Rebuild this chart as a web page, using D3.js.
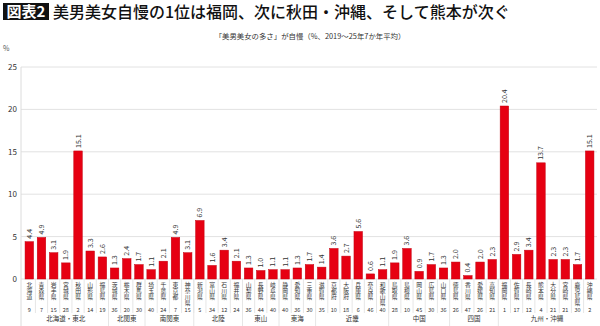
<!DOCTYPE html>
<html>
<head>
<meta charset="utf-8">
<script src="https://cdn.jsdelivr.net/npm/d3@7"></script>
<style>
  body { margin: 0; background: #fff; }
  svg { display: block; font-family: "Noto Sans CJK JP", "Noto Sans", sans-serif; }
  .vlabel { writing-mode: vertical-rl; }
</style>
</head>
<body>
<svg id="chart" width="600" height="326"></svg>
<script>
// data
var prefectures = ["北海道","青森県","岩手県","宮城県","秋田県","山形県","福島県",
  "茨城県","栃木県","群馬県","埼玉県","千葉県","東京都","神奈川県",
  "新潟県","富山県","石川県","福井県","山梨県","長野県","岐阜県",
  "静岡県","愛知県","三重県","滋賀県","京都府","大阪府","兵庫県","奈良県","和歌山県",
  "鳥取県","島根県","岡山県","広島県","山口県","徳島県","香川県","愛媛県","高知県",
  "福岡県","佐賀県","長崎県","熊本県","大分県","宮崎県","鹿児島県","沖縄県"];
var values = [4.4,4.9,3.1,1.9,15.1,3.3,2.6,
  1.3,2.4,1.7,1.1,2.1,4.9,3.1,
  6.9,1.6,3.4,2.1,1.3,1.0,1.1,
  1.1,1.3,1.7,1.4,3.6,2.7,5.6,0.6,1.1,
  1.9,3.6,0.9,1.7,1.3,2.0,0.4,2.0,2.3,
  20.4,2.9,3.4,13.7,2.3,2.3,1.7,15.1];
var ranks = [9,7,15,28,2,14,19,
  36,20,30,40,24,7,15,
  5,34,12,24,36,44,40,
  40,36,30,35,10,18,6,46,40,
  28,10,45,30,36,26,47,26,21,
  1,17,12,4,21,21,30,2];
var regionNames = ["北海道・東北","北関東","南関東","北陸","東山","東海","近畿","中国","四国","九州・沖縄"];
var regionSizes = [7,3,4,4,3,3,6,5,4,8];
var yTicks = [0,5,10,15,20,25];

var svg = d3.select("#chart");
var plotLeft = 22, plotRight = 597, plotTop = 67, zeroY = 279;

var x = d3.scaleBand()
    .domain(prefectures)
    .range([plotLeft, plotRight])
    .paddingInner(0.3)
    .paddingOuter(0.25);

var y = d3.scaleLinear()
    .domain([0, 25])
    .range([zeroY, plotTop]);

// title
svg.append("rect").attr("x", 3).attr("y", 3).attr("width", 46).attr("height", 17).attr("fill", "#111");
svg.append("text").attr("x", 26).attr("y", 17.3).attr("text-anchor", "middle")
    .attr("fill", "#fff").attr("font-size", 15).attr("font-weight", "bold").text("図表2");
svg.append("text").attr("x", 53).attr("y", 18).attr("font-size", 16).attr("font-weight", 500)
    .attr("fill", "#111").text("美男美女自慢の1位は福岡、次に秋田・沖縄、そして熊本が次ぐ");

svg.append("text").attr("x", 310).attr("y", 39).attr("text-anchor", "middle")
    .attr("font-size", 7.4).attr("fill", "#333")
    .text("「美男美女の多さ」が自慢（%、2019～25年7か年平均）");
svg.append("text").attr("x", 3).attr("y", 51).attr("font-size", 7).attr("fill", "#555").text("%");

// grid
svg.append("g").selectAll("line").data(yTicks).join("line")
    .attr("x1", plotLeft - 1).attr("x2", plotRight)
    .attr("y1", d => y(d)).attr("y2", d => y(d))
    .attr("stroke", "#e2e2e2").attr("stroke-width", 1);

svg.append("line").attr("x1", plotLeft - 1).attr("x2", plotLeft - 1)
    .attr("y1", y(25)).attr("y2", 326).attr("stroke", "#dcdcdc");

svg.append("g").selectAll("text").data(yTicks).join("text")
    .attr("x", 17).attr("y", d => y(d) + 3)
    .attr("text-anchor", "end").attr("font-size", 8).attr("fill", "#333")
    .text(d => d);

// separators under the axis
var step = x.step();
var gap = (step - x.bandwidth()) / 2;
svg.append("g").selectAll("line").data(prefectures.slice(1)).join("line")
    .attr("x1", d => x(d) - gap)
    .attr("x2", d => x(d) - gap)
    .attr("y1", zeroY).attr("y2", 313)
    .attr("stroke", "#e6e6e6");

var regionBounds = [];
var acc = 0;
regionSizes.forEach(function (n, i) {
    regionBounds.push({ name: regionNames[i], first: prefectures[acc], last: prefectures[acc + n - 1] });
    acc += n;
});

svg.append("g").selectAll("line").data(regionBounds.slice(1)).join("line")
    .attr("x1", d => x(d.first) - gap)
    .attr("x2", d => x(d.first) - gap)
    .attr("y1", zeroY).attr("y2", 326)
    .attr("stroke", "#e6e6e6");

// bars
svg.append("g").selectAll("rect").data(values).join("rect")
    .attr("x", (d, i) => x(prefectures[i]))
    .attr("y", d => y(d))
    .attr("width", x.bandwidth())
    .attr("height", d => zeroY - y(d))
    .attr("fill", "#e60012")
    .attr("stroke", "#c4000f").attr("stroke-width", 0.5);

// value labels
svg.append("g").selectAll("text").data(values).join("text")
    .attr("transform", (d, i) => "translate(" + (x(prefectures[i]) + x.bandwidth() / 2 + 2.5) + "," + (y(d) - 3) + ") rotate(-90)")
    .attr("font-size", 7).attr("fill", "#333")
    .text(d => d.toFixed(1));

// prefecture names, vertical
svg.append("g").selectAll("text").data(prefectures).join("text")
    .attr("class", "vlabel")
    .attr("x", d => x(d) + x.bandwidth() / 2)
    .attr("y", 282)
    .attr("font-size", 5.8).attr("fill", "#333")
    .text(d => d);

// ranks
svg.append("g").selectAll("text").data(ranks).join("text")
    .attr("x", (d, i) => x(prefectures[i]) + x.bandwidth() / 2)
    .attr("y", 312)
    .attr("text-anchor", "middle").attr("font-size", 5.5).attr("fill", "#333")
    .text(d => d);

// region names
svg.append("g").selectAll("text").data(regionBounds).join("text")
    .attr("x", d => (x(d.first) + x(d.last) + x.bandwidth()) / 2)
    .attr("y", 321)
    .attr("text-anchor", "middle").attr("font-size", 6.5).attr("fill", "#333")
    .text(d => d.name);
</script>
</body>
</html>
